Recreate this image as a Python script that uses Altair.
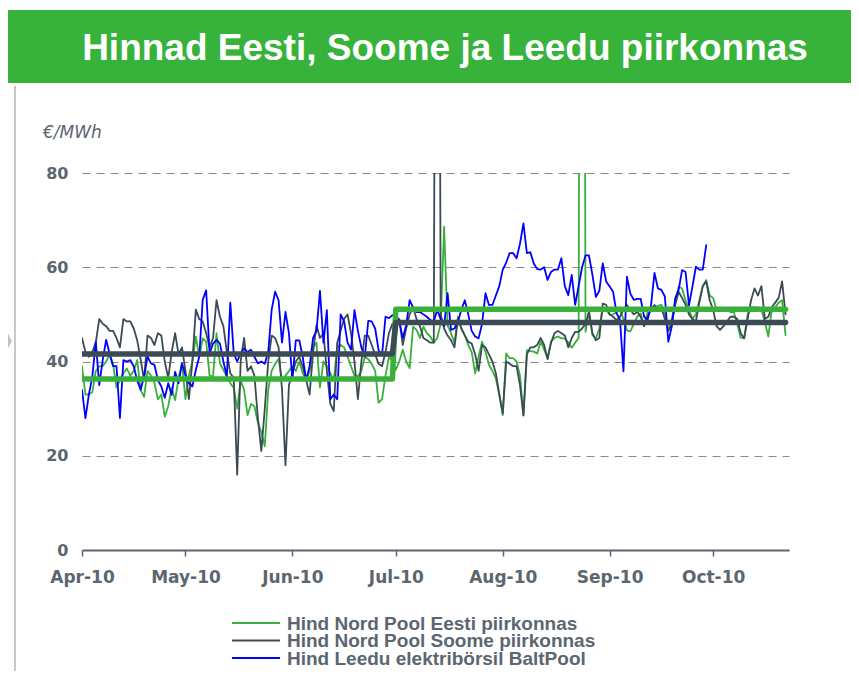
import altair as alt
import pandas as pd

# ---------------- data ----------------
start_date = "2010-04-01"
month_ticks = ["2010-04-01", "2010-05-01", "2010-06-01", "2010-07-01",
               "2010-08-01", "2010-09-01", "2010-10-01"]

# Hind Nord Pool Soome piirkonnas (daily, Apr 1 .. Oct 22)
soome = [
    45, 42, 41, 42, 44, 49, 48, 47.5, 46.5, 46.5,
    45, 43, 49, 48.5, 48.5, 47, 44.5, 40.5, 36, 45.5,
    45, 43.5, 46, 45.5, 40, 36.5, 42, 46, 41.5, 43,
    38, 32, 40, 51, 49, 48.5, 46, 43, 45, 53,
    49.5, 47.5, 42, 37.5, 36.5, 16, 40, 45, 38, 39,
    37, 28, 21, 30, 40, 45.5, 45, 43, 34, 18,
    35, 37.5, 40, 41, 39, 36, 33, 42, 47.7, 45,
    46, 38, 31, 29.5, 44, 46.5, 49, 50, 46, 40,
    32, 40, 45.5, 45.5, 43.5, 41.5, 39.5, 39, 42, 46,
    48, 47, 49, 43.5, 47, 50, 51.5, 49, 47.5, 45,
    44.5, 44, 44, 270, 50, 47, 45.5, 44.5, 43, 49,
    47, 45.5, 44.2, 43.8, 41.5, 38, 43.5, 43, 41.5, 40,
    37.5, 33, 29, 40, 39.5, 39, 39, 35, 28.5, 41.5,
    43, 43, 43.5, 45, 43.5, 40.5, 44, 46, 46.5, 46,
    45.5, 43, 45, 46.3, 46.3, 47, 48, 50.5, 46, 44.5,
    45, 52.3, 52, 50, 49.5, 48.8, 49.5, 51, 52, 51,
    50, 50.5, 49.5, 47.5, 49.5, 51, 52, 51, 51.5, 49,
    46.5, 48, 52, 54.8, 53.5, 52, 50, 49, 48.5, 52.5,
    56, 57, 53, 51, 47.5, 46.7, 47.5, 48.5, 49.5, 49.5,
    49, 46, 44.9, 49, 53, 55.5, 54, 56, 49, 49.5,
    51.5, 52.5, 53.5, 57, 50,
]

# Hind Nord Pool Eesti piirkonnas (daily, Apr 1 .. Oct 22)
eesti = [
    39, 33, 33, 33.5, 38, 39, 39, 40, 41.4, 39.6,
    34.5, 36, 37.5, 38.5, 37, 38, 40.3, 34, 32.5, 38,
    37, 35.5, 32, 33, 28.3, 30.5, 34.5, 31.8, 36.5, 39.6,
    32, 37, 40, 45.3, 41, 44.9, 44.2, 37, 36.8, 46,
    39.6, 38.2, 36.8, 35.4, 34.4, 30, 36, 34, 28.6, 31,
    30.5, 27, 25, 22, 34, 38, 39.5, 40.5, 36, 37,
    38, 39, 38, 40, 37.5, 36, 38, 43, 44, 34.5,
    40, 39, 37.5, 36, 43, 43.5, 43, 41, 39, 37,
    36.8, 38, 41, 40.5, 39.5, 38, 31.2, 32, 37, 41,
    40, 38.2, 40, 42.5, 40, 38.6, 47.4, 46.7, 45, 47.4,
    46, 45.3, 44, 45, 48, 68.6, 47.7, 46, 44, 49.5,
    47, 45.6, 43.5, 42, 37.5, 41, 44.2, 42, 39.3, 38,
    36.4, 33, 28.6, 41.7, 40.7, 40.7, 40, 37, 28.6, 42.4,
    42.2, 42.1, 41.7, 44.2, 42.5, 40.7, 44.2, 45, 45.3, 44.9,
    44.9, 44, 42.9, 44, 45, 350, 46.3, 50.6, 45.6, 44.9,
    47, 51.3, 51, 49.9, 50, 50.5, 51, 49, 46.6, 46.4,
    48, 49.5, 50.2, 47.5, 50.5, 51.5, 51.5, 51.8, 52, 50,
    46.5, 49, 52.5, 55.9, 55.5, 53, 51, 49, 50, 53,
    56, 57.3, 54, 53.5, 51, 51, 51, 51, 50.5, 50.5,
    48, 45, 45, 50, 51.5, 51.5, 51.5, 51, 48.4, 45.3,
    51, 51.5, 52.5, 53, 45.6,
]

# Hind Leedu elektribörsil BaltPool (daily, Apr 1 .. Sep 29)
leedu = [
    34, 28, 33, 36.8, 44.2, 35, 40.3, 44.6, 41.7, 39,
    39, 28, 40.3, 40, 40.3, 39, 36, 34, 36.8, 41,
    39.6, 39.3, 36.1, 34.7, 32.3, 35.4, 32.9, 37.8, 35.4, 39.6,
    37, 35.4, 34.7, 38.2, 41, 53.1, 55.1, 41.7, 43.8, 44.6,
    43.8, 40, 36.8, 52.5, 41.7, 40, 41.7, 42.8, 42, 42.5,
    41, 39.6, 40, 39.5, 42, 51, 54.8, 53, 44, 50.5,
    46, 36, 44.5, 44.5, 41, 36, 39, 45, 46.5, 55,
    44, 50.9, 32, 33, 32, 50, 48.5, 44, 42.5, 50.9,
    46.5, 43, 41, 48.6, 48.5, 47, 42.4, 41.4, 49.5, 49.2,
    49.8, 50, 48.5, 45, 47.7, 53, 51.5, 50.5, 50.5, 50,
    49.5, 48.8, 48.5, 51, 49, 47.5, 54.5, 46.7, 47, 48.5,
    51, 53, 50, 46.5, 45.3, 44.9, 48, 54.5, 52, 52,
    54, 56, 59.5, 61, 63, 63, 61.9, 65, 69.3, 63,
    63.2, 60.8, 59.6, 59.5, 60, 57.3, 59, 59.5, 59.5, 61.9,
    56, 54.1, 58.4, 52, 56, 60, 62.5, 62.5, 58.4, 53.7,
    55, 60.8, 57, 55.9, 54.8, 50.2, 48.8, 37.9, 58, 54.4,
    53.1, 53.3, 53.3, 49.5, 48.8, 52, 58.8, 55.5, 55.2, 53.8,
    44.2, 47.4, 53.4, 55.2, 59.4, 59, 51.9, 55.9, 60.1, 59.5,
    59.5, 64.7,
]

# period averages (thick step lines)
period_starts = ["2010-04-01", "2010-07-01"]
eesti_avg = [36.3, 51.1]
soome_avg = [41.6, 48.3]

labels = ["Hind Nord Pool Eesti piirkonnas",
          "Hind Nord Pool Soome piirkonnas",
          "Hind Leedu elektribörsil BaltPool"]
colors = ["#38b03a", "#3b4a55", "#0000ff"]
title_text = "Hinnad Eesti, Soome ja Leedu piirkonnas"
unit_text = "€/MWh"

# ---------------- build tables ----------------
def daily(values):
    d = pd.date_range(start_date, periods=len(values), freq="D")
    return pd.DataFrame({"date": d.strftime("%Y-%m-%dT%H:%M:%S"), "value": values})

df_e = daily(eesti)
df_s = daily(soome)
df_l = daily(leedu)

def step(avgs, n):
    d = pd.date_range(start_date, periods=n, freq="D")
    cut = pd.Timestamp(period_starts[1])
    vals = [avgs[0] if x < cut else avgs[1] for x in d]
    return pd.DataFrame({"date": d.strftime("%Y-%m-%dT%H:%M:%S"), "value": vals})

df_ea = step(eesti_avg, len(eesti))
df_sa = step(soome_avg, len(soome))

one = pd.DataFrame({"k": [0]})

AXC = "#5b6670"
tick_dt = [alt.DateTime(year=int(m[:4]), month=int(m[5:7]), date=int(m[8:10])) for m in month_ticks]

x_enc = alt.X(
    "date:T",
    scale=alt.Scale(domain=[alt.DateTime(year=2010, month=4, date=1),
                            alt.DateTime(year=2010, month=10, date=23)]),
    axis=alt.Axis(values=tick_dt, format="%b-%y", title=None, grid=False,
                  labelFont="DejaVu Sans", labelFontWeight="bold", labelFontSize=17,
                  labelColor=AXC, domainColor=AXC, domainWidth=2, tickColor=AXC,
                  tickWidth=1.5, tickSize=6, labelPadding=13, labelFlush=False),
)
y_enc = alt.Y(
    "value:Q",
    scale=alt.Scale(domain=[0, 80], nice=False),
    axis=alt.Axis(values=[0, 20, 40, 60, 80], title=None, grid=True,
                  gridDash=[8, 6], gridColor="#8a8a8a", gridWidth=1,
                  domain=False, ticks=False, labelFont="DejaVu Sans",
                  labelFontWeight="bold", labelFontSize=16, labelColor=AXC,
                  labelPadding=14),
)

def line(df, color, width):
    return alt.Chart(df).mark_line(color=color, strokeWidth=width, clip=True,
                                   strokeCap="round", strokeJoin="round").encode(x=x_enc, y=y_enc)

# ---------------- decorations ----------------
banner = alt.Chart(one).mark_rect(color="#37b23a").encode(
    x=alt.value(-74), x2=alt.value(800), y=alt.value(-163), y2=alt.value(-90))
title = alt.Chart(one).mark_text(
    text=title_text, font="Liberation Sans", fontWeight="bold", fontSize=37,
    color="white", align="center", baseline="alphabetic").encode(
    x=alt.value(363), y=alt.value(-113))
vline = alt.Chart(one).mark_rule(color="#c8c8c8", strokeWidth=2).encode(
    x=alt.value(-67), y=alt.value(-87), y2=alt.value(520))
chevron = alt.Chart(one).mark_point(
    shape="M -1 -3.8 L 1 0 L -1 3.8 Z", size=144, filled=True,
    color="#c3c3c3", opacity=1).encode(x=alt.value(-76), y=alt.value(168))
unit = alt.Chart(one).mark_text(
    text=unit_text, font="DejaVu Sans", fontStyle="italic", fontSize=17,
    color=AXC, align="left", baseline="alphabetic").encode(
    x=alt.value(-39), y=alt.value(-35))

legend_layers = []
for i, (lab, col) in enumerate(zip(labels, colors)):
    yy = 450 + i * 17.5
    legend_layers.append(alt.Chart(one).mark_rule(color=col, strokeWidth=2).encode(
        x=alt.value(150), x2=alt.value(198), y=alt.value(yy)))
    legend_layers.append(alt.Chart(one).mark_text(
        text=lab, font="Liberation Sans", fontWeight="bold", fontSize=19,
        color=AXC, align="left", baseline="middle").encode(
        x=alt.value(205), y=alt.value(yy + 0.5)))

chart = alt.layer(
    line(df_e, colors[0], 1.8),
    line(df_s, colors[1], 1.8),
    line(df_l, colors[2], 1.8),
    line(df_ea, colors[0], 5.5),
    line(df_sa, colors[1], 5.5),
    banner, title, vline, chevron, unit,
    *legend_layers,
).properties(
    width=707, height=377,
    autosize=alt.AutoSizeParams(type="none"),
    padding={"left": 74, "top": 165, "right": 62, "bottom": 121},
).configure_view(stroke=None)

chart.save("out.html", embed_options={"renderer": "svg", "actions": False})
